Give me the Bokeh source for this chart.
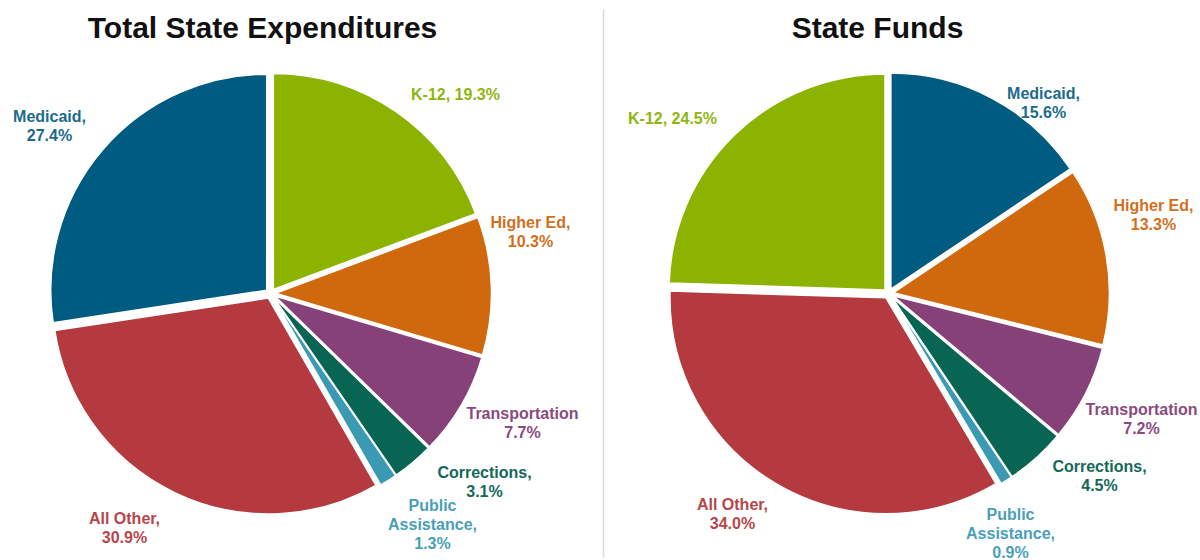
import math
from bokeh.plotting import figure
from bokeh.models import ColumnDataSource, Range1d
from bokeh.core.properties import value
from bokeh.embed import file_html
from bokeh.resources import INLINE

# ---------------- data ----------------
titles = ["Total State Expenditures", "State Funds"]

left_categories = ["K-12", "Higher Ed", "Transportation", "Corrections",
                   "Public Assistance", "All Other", "Medicaid"]
left_values = [19.3, 10.3, 7.7, 3.1, 1.3, 30.9, 27.4]

right_categories = ["Medicaid", "Higher Ed", "Transportation", "Corrections",
                    "Public Assistance", "All Other", "K-12"]
right_values = [15.6, 13.3, 7.2, 4.5, 0.9, 34.0, 24.5]

label_templates = {
    "Medicaid": "Medicaid,\n{v}%",
    "K-12": "K-12, {v}%",
    "Higher Ed": "Higher Ed,\n{v}%",
    "Transportation": "Transportation\n{v}%",
    "Corrections": "Corrections,\n{v}%",
    "Public Assistance": "Public\nAssistance,\n{v}%",
    "All Other": "All Other,\n{v}%",
}

# ---------------- style / layout ----------------
slice_colors = {
    "Medicaid": "#005b80",
    "K-12": "#8bb300",
    "Higher Ed": "#d0680e",
    "Transportation": "#874179",
    "Corrections": "#096553",
    "Public Assistance": "#3a99b3",
    "All Other": "#b43a40",
}
label_colors = {
    "Medicaid": "#1c6b8c",
    "K-12": "#8fb512",
    "Higher Ed": "#d2701c",
    "Transportation": "#8a4a80",
    "Corrections": "#14685a",
    "Public Assistance": "#4a9fb8",
    "All Other": "#b6464b",
}

W, H = 1200, 560
def Y(ref_y):  # reference pixel row -> data y
    return H - ref_y

pie_centers = [(270, 293), (888, 293)]
pie_radius = 216
explode = 5
title_pos = [(262, 27), (877, 27)]
label_pos = [
    {"K-12": (455, 94), "Higher Ed": (530, 222), "Transportation": (522, 413),
     "Corrections": (484, 472), "Public Assistance": (432, 505),
     "All Other": (124, 518), "Medicaid": (49, 116)},
    {"Medicaid": (1043, 93), "Higher Ed": (1153, 205), "Transportation": (1141, 409),
     "Corrections": (1099, 466), "Public Assistance": (1010, 514),
     "All Other": (732, 504), "K-12": (672, 118)},
]
line_gap = 19
FONT = value("Liberation Sans")

p = figure(width=W, height=H, output_backend="svg", toolbar_location=None,
           x_range=Range1d(0, W), y_range=Range1d(0, H),
           x_axis_type=None, y_axis_type=None, min_border=0,
           outline_line_color=None, background_fill_color="white",
           border_fill_color="white")
p.grid.visible = False

for k, (cats, vals) in enumerate([(left_categories, left_values),
                                  (right_categories, right_values)]):
    cx, cy = pie_centers[k]
    total = sum(vals)
    xs, ys, starts, ends, cols = [], [], [], [], []
    cum = 0.0
    for c, v in zip(cats, vals):
        f0 = cum / total
        cum += v
        f1 = cum / total
        a_start = math.pi / 2 - 2 * math.pi * f1
        a_end = math.pi / 2 - 2 * math.pi * f0
        mid = (a_start + a_end) / 2
        xs.append(cx + explode * math.cos(mid))
        ys.append(Y(cy) + explode * math.sin(mid))
        starts.append(a_start)
        ends.append(a_end)
        cols.append(slice_colors[c])
    src = ColumnDataSource(dict(x=xs, y=ys, start=starts, end=ends, color=cols))
    p.wedge(x="x", y="y", radius=pie_radius, start_angle="start", end_angle="end",
            fill_color="color", line_color="white", line_width=1.5, source=src)

    # labels
    lx, ly, lt, lc = [], [], [], []
    for c, v in zip(cats, vals):
        text = label_templates[c].format(v=f"{v:.1f}")
        x0, y0 = label_pos[k][c]
        for i, line in enumerate(text.split("\n")):
            lx.append(x0)
            ly.append(Y(y0 + i * line_gap))
            lt.append(line)
            lc.append(label_colors[c])
    p.text(x=lx, y=ly, text=lt, text_color=lc, text_font=FONT,
           text_font_style="bold", text_font_size="16px",
           text_align="center", text_baseline="middle")

    tx, ty = title_pos[k]
    p.text(x=[tx], y=[Y(ty)], text=[titles[k]], text_color="#111111",
           text_font=FONT, text_font_style="bold", text_font_size="30px",
           text_align="center", text_baseline="middle")

# divider
p.segment(x0=[603], y0=[Y(9)], x1=[603], y1=[Y(557)],
          line_color="#d9d9d9", line_width=1.5)

open("out.html", "w").write(file_html(p, INLINE))
